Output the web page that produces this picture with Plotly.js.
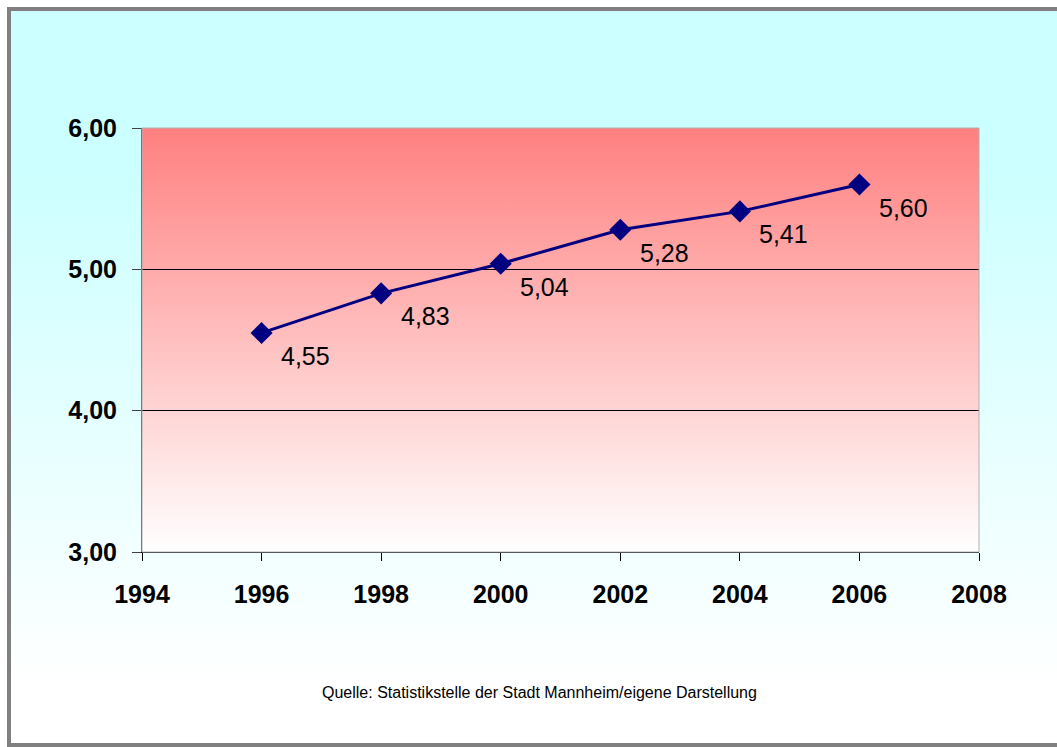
<!DOCTYPE html>
<html>
<head>
<meta charset="utf-8">
<script src="https://cdn.plot.ly/plotly-3.0.1.min.js"></script>
<style>
    html, body { margin: 0; padding: 0; overflow: hidden; background: #ffffff; }
    #frame {
        position: absolute; left: 7px; top: 7px;
        width: 1060px; height: 732px;
        border: 4px solid #808080;
        background: linear-gradient(to bottom, #CCFFFF 0%, #CCFFFF 22%, #FFFFFF 92%);
    }
    #chart { position: absolute; left: 0; top: 0; }
</style>
</head>
<body>
<div id="frame"><div id="chart"></div></div>
<script>
    var years = [1996, 1998, 2000, 2002, 2004, 2006];
    var values = [4.55, 4.83, 5.04, 5.28, 5.41, 5.60];
    var valueLabels = ['4,55', '4,83', '5,04', '5,28', '5,41', '5,60'];
    var xRange = [1994, 2008];
    var yRange = [3, 6];
    var yTicks = [3, 4, 5, 6];
    var source = 'Quelle: Statistikstelle der Stadt Mannheim/eigene Darstellung';

    // red-to-white fill of the plot area
    var gradSvg = "<svg xmlns='http://www.w3.org/2000/svg' width='100' height='400' preserveAspectRatio='none'>" +
        "<defs><linearGradient id='g' x1='0' y1='0' x2='0' y2='1'>" +
        "<stop offset='0' stop-color='#FF8080'/><stop offset='1' stop-color='#FFFFFF'/>" +
        "</linearGradient></defs><rect width='100' height='400' fill='url(#g)'/></svg>";

    var trace = {
        x: years,
        y: values,
        mode: 'lines+markers',
        line: { color: '#000080', width: 3 },
        marker: { symbol: 'diamond', size: 17, color: '#000080' },
        hoverinfo: 'skip',
        showlegend: false
    };

    var annotations = years.map(function (yr, i) {
        return {
            x: yr, y: values[i], xref: 'x', yref: 'y',
            text: valueLabels[i], showarrow: false,
            xshift: 44, yshift: -23,
            font: { family: 'Liberation Sans, Arial, sans-serif', size: 25, color: '#000000' }
        };
    });
    annotations.push({
        x: 0.4755, y: 0, xref: 'paper', yref: 'paper',
        yanchor: 'middle', yshift: -140,
        text: source, showarrow: false,
        font: { family: 'Liberation Sans, Arial, sans-serif', size: 16, color: '#000000' }
    });

    var tickFont = { family: 'Liberation Sans, Arial, sans-serif', size: 25, color: '#000000', weight: 700 };

    var layout = {
        width: 1046,
        height: 732,
        margin: { l: 131, r: 78, t: 117, b: 191 },
        paper_bgcolor: 'rgba(0,0,0,0)',
        plot_bgcolor: 'rgba(0,0,0,0)',
        xaxis: {
            range: xRange,
            dtick: 2,
            tickformat: 'd',
            showgrid: false,
            zeroline: false,
            showline: true,
            linecolor: '#000000',
            linewidth: 1,
            ticks: 'outside',
            ticklen: 8,
            tickcolor: '#000000',
            ticklabelstandoff: 12,
            tickfont: tickFont
        },
        yaxis: {
            range: yRange,
            tickvals: yTicks,
            tickformat: '.2f',
            showgrid: true,
            gridcolor: '#000000',
            gridwidth: 1,
            zeroline: false,
            showline: true,
            linecolor: '#404040',
            linewidth: 1,
            ticks: 'outside',
            ticklen: 9,
            tickcolor: '#404040',
            ticklabelstandoff: 10,
            tickfont: tickFont
        },
        separators: ',.',
        images: [{
            source: 'data:image/svg+xml;charset=utf-8,' + encodeURIComponent(gradSvg),
            xref: 'paper', yref: 'paper',
            x: 0, y: 1, sizex: 1, sizey: 1,
            xanchor: 'left', yanchor: 'top',
            sizing: 'stretch', layer: 'below'
        }],
        shapes: [{
            type: 'rect', xref: 'paper', yref: 'paper',
            x0: 0, x1: 1, y0: 0, y1: 1,
            line: { color: '#B0B0B0', width: 1 },
            layer: 'above'
        }],
        annotations: annotations
    };

    Plotly.newPlot('chart', [trace], layout, { displayModeBar: false, staticPlot: true });
</script>
</body>
</html>
